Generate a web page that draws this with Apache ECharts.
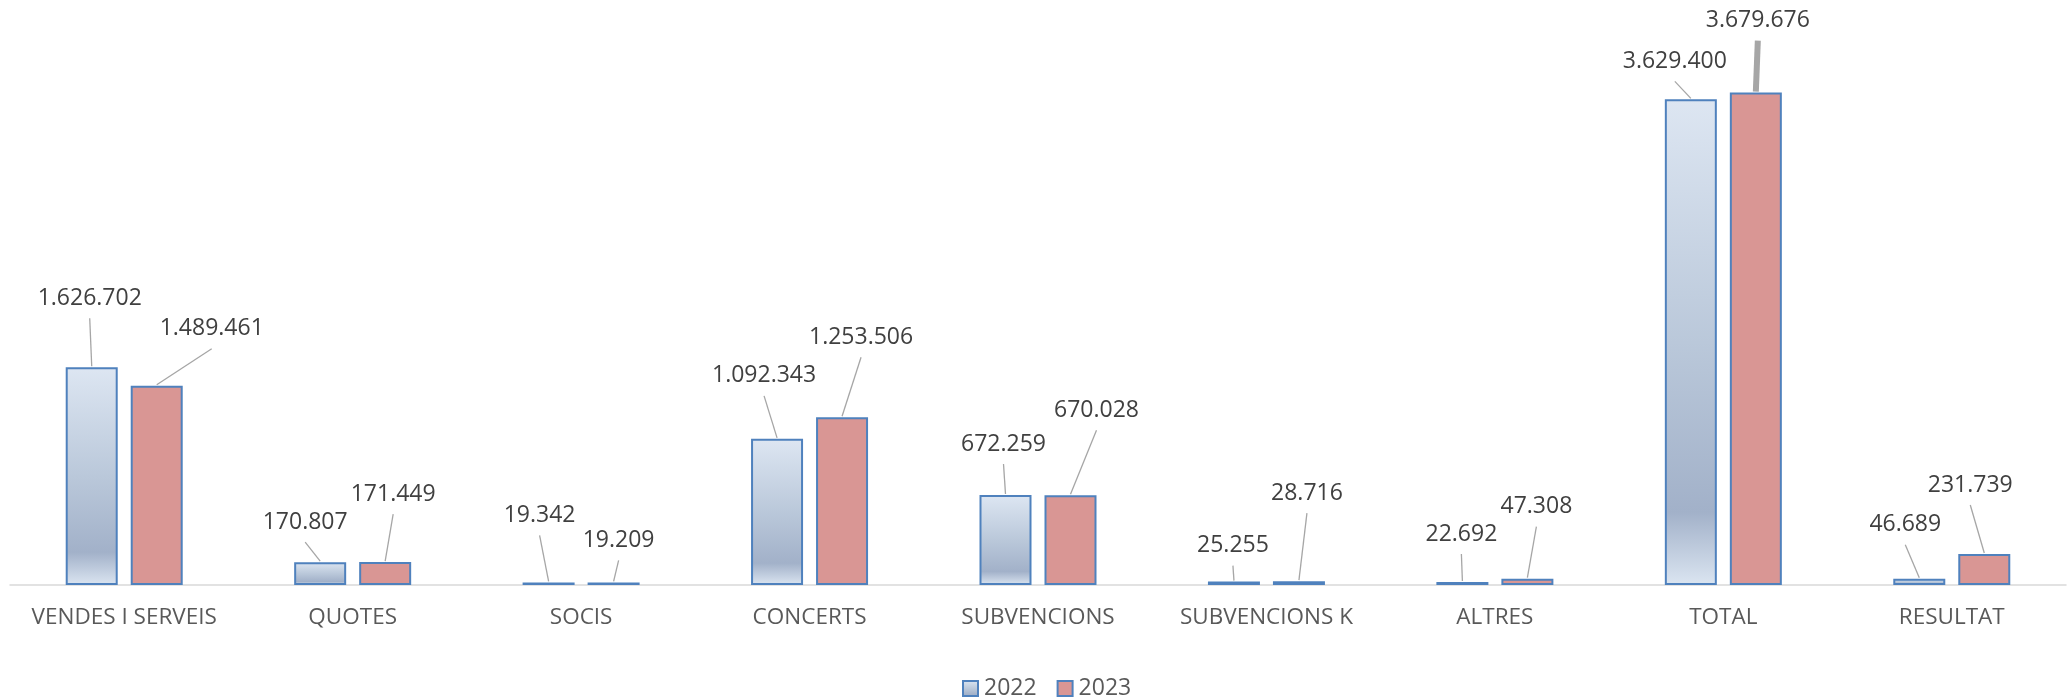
<!DOCTYPE html>
<html>
<head>
<meta charset="utf-8">
<script src="https://cdn.jsdelivr.net/npm/echarts@6/dist/echarts.min.js"></script>
<style>
  html, body { margin: 0; padding: 0; background: #ffffff; }
  #chart { width: 2071px; height: 698px; }
</style>
</head>
<body>
<div id="chart"></div>
<script>
// Categories and yearly amounts (euros)
const categories = ['VENDES I SERVEIS', 'QUOTES', 'SOCIS', 'CONCERTS', 'SUBVENCIONS', 'SUBVENCIONS K', 'ALTRES', 'TOTAL', 'RESULTAT'];
const values2022 = [1626702, 170807, 19342, 1092343, 672259, 25255, 22692, 3629400, 46689];
const values2023 = [1489461, 171449, 19209, 1253506, 670028, 28716, 47308, 3679676, 231739];
const years = ['2022', '2023'];

// Data-label placement: [dx, dy] in px from the top centre of each bar to the label centre
const labelShift2022 = [[-2, -69], [-15, -40], [-9, -67], [-13, -63], [-2, -51], [-1, -36], [-1, -48], [-16, -38], [-14, -54]];
const labelShift2023 = [[55, -57], [8, -68], [5, -42], [19, -80], [26, -85], [8, -88], [9, -72], [2, -72], [-14, -69]];
const leaderWidth2022 = [1.3, 1.3, 1.3, 1.3, 1.3, 1.3, 1.3, 1.3, 1.3];
const leaderWidth2023 = [1.3, 1.3, 1.3, 1.3, 1.3, 1.3, 1.3, 6, 1.3];

const BAR_WIDTH = 52;
const BAR_SHIFT = 32.5; // half of bar width + gap between the pair
const FONT = '"Open Sans", "Liberation Sans", sans-serif';

function fmt(v) {
  return String(Math.round(v)).replace(/\B(?=(\d{3})+(?!\d))/g, '.');
}

const seriesValues = [values2022, values2023];
const labelShifts = [labelShift2022, labelShift2023];
const leaderWidths = [leaderWidth2022, leaderWidth2023];

const labelData = [];
categories.forEach((c, i) => {
  seriesValues.forEach((vals, s) => labelData.push([i, vals[i], s]));
});

const chart = echarts.init(document.getElementById('chart'), null, { renderer: 'canvas' });

chart.setOption({
  animation: false,
  backgroundColor: '#ffffff',
  grid: { left: 10, right: 5, top: 23, bottom: 113, containLabel: false },
  legend: {
    data: years,
    left: 957,
    top: 672,
    icon: 'rect',
    itemWidth: 15,
    itemHeight: 15,
    itemGap: 20,
    textStyle: { fontFamily: FONT, fontSize: 23, color: '#595959', padding: [0, 0, 0, 1] }
  },
  xAxis: {
    type: 'category',
    data: categories,
    axisLine: { show: true, lineStyle: { color: '#D9D9D9', width: 1.5 } },
    axisTick: { show: false },
    axisLabel: { margin: 21, fontFamily: FONT, fontSize: 22.5, color: '#595959', interval: 0 }
  },
  yAxis: {
    type: 'value',
    min: 0,
    max: 4200000,
    show: false,
    splitLine: { show: false }
  },
  series: [
    {
      name: '2022',
      type: 'bar',
      data: values2022,
      barWidth: BAR_WIDTH,
      barGap: '25%',
      itemStyle: {
        color: new echarts.graphic.LinearGradient(0, 0, 0, 1, [
          { offset: 0, color: '#dde6f2' },
          { offset: 0.5, color: '#bac8da' },
          { offset: 0.85, color: '#a2b1c9' },
          { offset: 1, color: '#dbe5f1' }
        ]),
        borderColor: '#4F81BD',
        borderWidth: 2
      }
    },
    {
      name: '2023',
      type: 'bar',
      data: values2023,
      barWidth: BAR_WIDTH,
      barGap: '25%',
      itemStyle: {
        color: '#D99694',
        borderColor: '#4F81BD',
        borderWidth: 2
      }
    },
    {
      // value labels with leader lines back to each bar top
      type: 'custom',
      silent: true,
      z: 10,
      data: labelData,
      renderItem: function (params, api) {
        const i = api.value(0);
        const v = api.value(1);
        const s = api.value(2);
        const top = api.coord([i, v]);
        const x = top[0] + (s === 0 ? -BAR_SHIFT : BAR_SHIFT);
        const y = top[1];
        const sh = labelShifts[s][i];
        const lx = x + sh[0];
        const ly = y + sh[1];
        return {
          type: 'group',
          children: [
            {
              type: 'line',
              shape: { x1: lx, y1: ly + 20, x2: x, y2: y - 1 },
              style: { stroke: '#A6A6A6', lineWidth: leaderWidths[s][i] }
            },
            {
              type: 'text',
              x: lx,
              y: ly,
              style: {
                text: fmt(v),
                fill: '#404040',
                font: '23px ' + FONT,
                align: 'center',
                verticalAlign: 'middle'
              }
            }
          ]
        };
      }
    }
  ]
});
</script>
</body>
</html>
